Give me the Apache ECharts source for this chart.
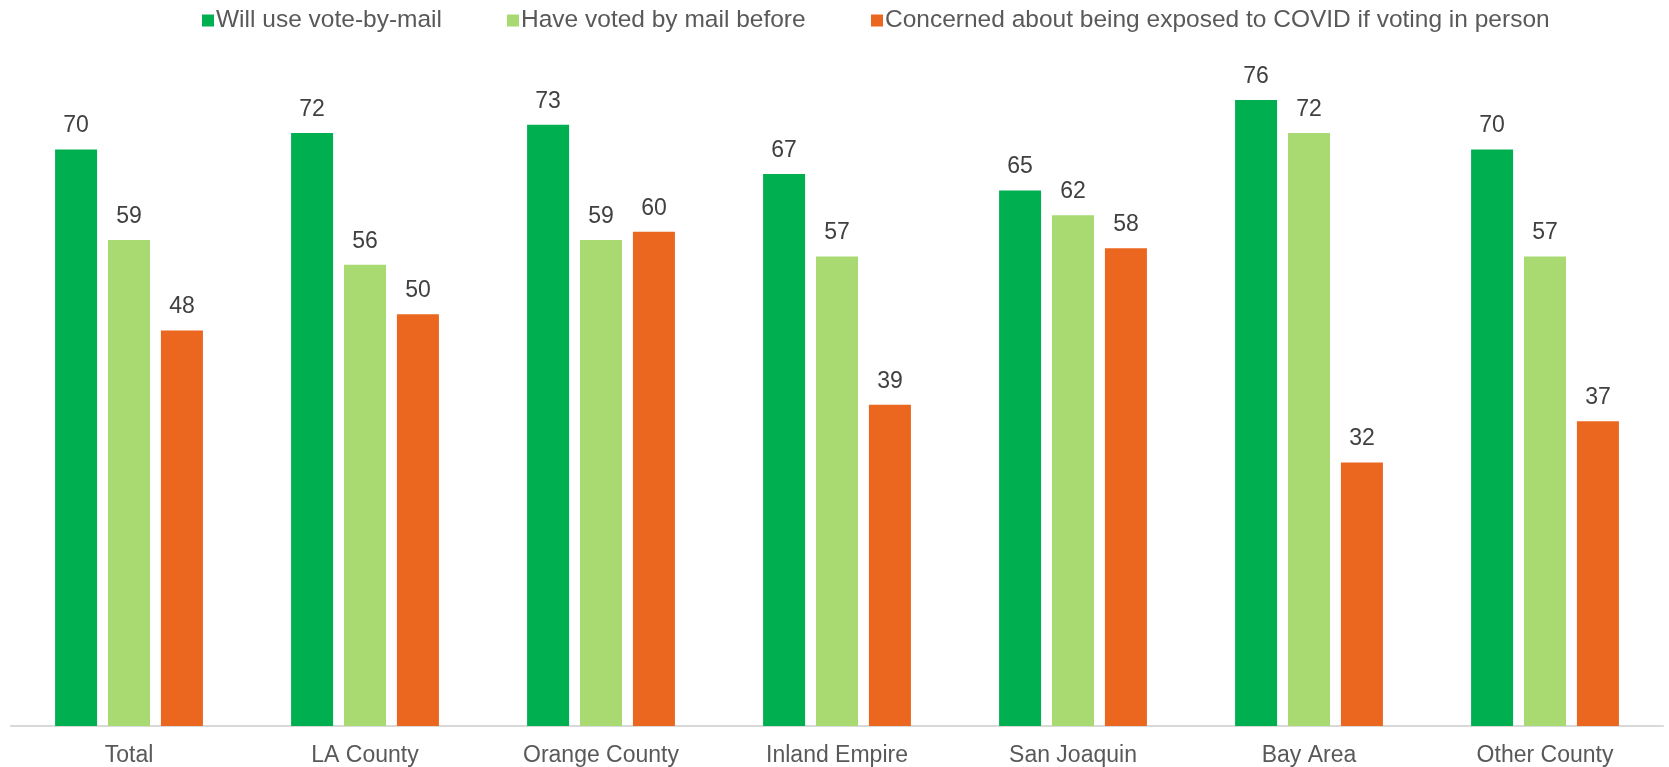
<!DOCTYPE html>
<html>
<head>
<meta charset="utf-8">
<script src="https://cdn.jsdelivr.net/npm/echarts@6/dist/echarts.min.js"></script>
<style>html,body{margin:0;padding:0;background:#fff}#c{width:1669px;height:767px}</style>
</head>
<body>
<div id="c"></div>
<script>
var categories = ['Total', 'LA County', 'Orange County', 'Inland Empire', 'San Joaquin', 'Bay Area', 'Other County'];
var seriesNames = ['Will use vote-by-mail', 'Have voted by mail before', 'Concerned about being exposed to COVID if voting in person'];
var willUse = [70, 72, 73, 67, 65, 76, 70];
var votedBefore = [59, 56, 59, 57, 62, 72, 57];
var concerned = [48, 50, 60, 39, 58, 32, 37];
var colors = ['#00B050', '#A9D971', '#EB661E'];

var chart = echarts.init(document.getElementById('c'));
var font = 'Liberation Sans, Arial, sans-serif';
function mk(name, data, color) {
  return {
    name: name, type: 'bar', data: data, barWidth: 42, barGap: '26%',
    itemStyle: { color: color },
    label: { show: true, position: 'top', distance: 12, color: '#404040', fontSize: 23, fontFamily: font },
    emphasis: { disabled: true }
  };
}
var legendLefts = [197, 502, 866];
var legends = seriesNames.map(function (n, i) {
  return {
    top: 3, left: legendLefts[i], itemWidth: 12, itemHeight: 12, icon: 'rect',
    textStyle: { fontSize: 24.5, color: '#595959', fontFamily: font, padding: [0, 0, 0, -3] },
    data: [n]
  };
});
chart.setOption({
  animation: false,
  textStyle: { fontFamily: font },
  legend: legends,
  grid: { left: 11, right: 6, top: 67, bottom: 40 },
  xAxis: {
    type: 'category', data: categories,
    axisLine: { lineStyle: { color: '#D9D9D9', width: 2 } },
    axisTick: { show: false },
    axisLabel: { fontSize: 23, color: '#595959', margin: 18, fontFamily: font }
  },
  yAxis: { type: 'value', min: 0, max: 80, show: false, splitLine: { show: false } },
  series: [mk(seriesNames[0], willUse, colors[0]), mk(seriesNames[1], votedBefore, colors[1]), mk(seriesNames[2], concerned, colors[2])]
});
</script>
</body>
</html>
